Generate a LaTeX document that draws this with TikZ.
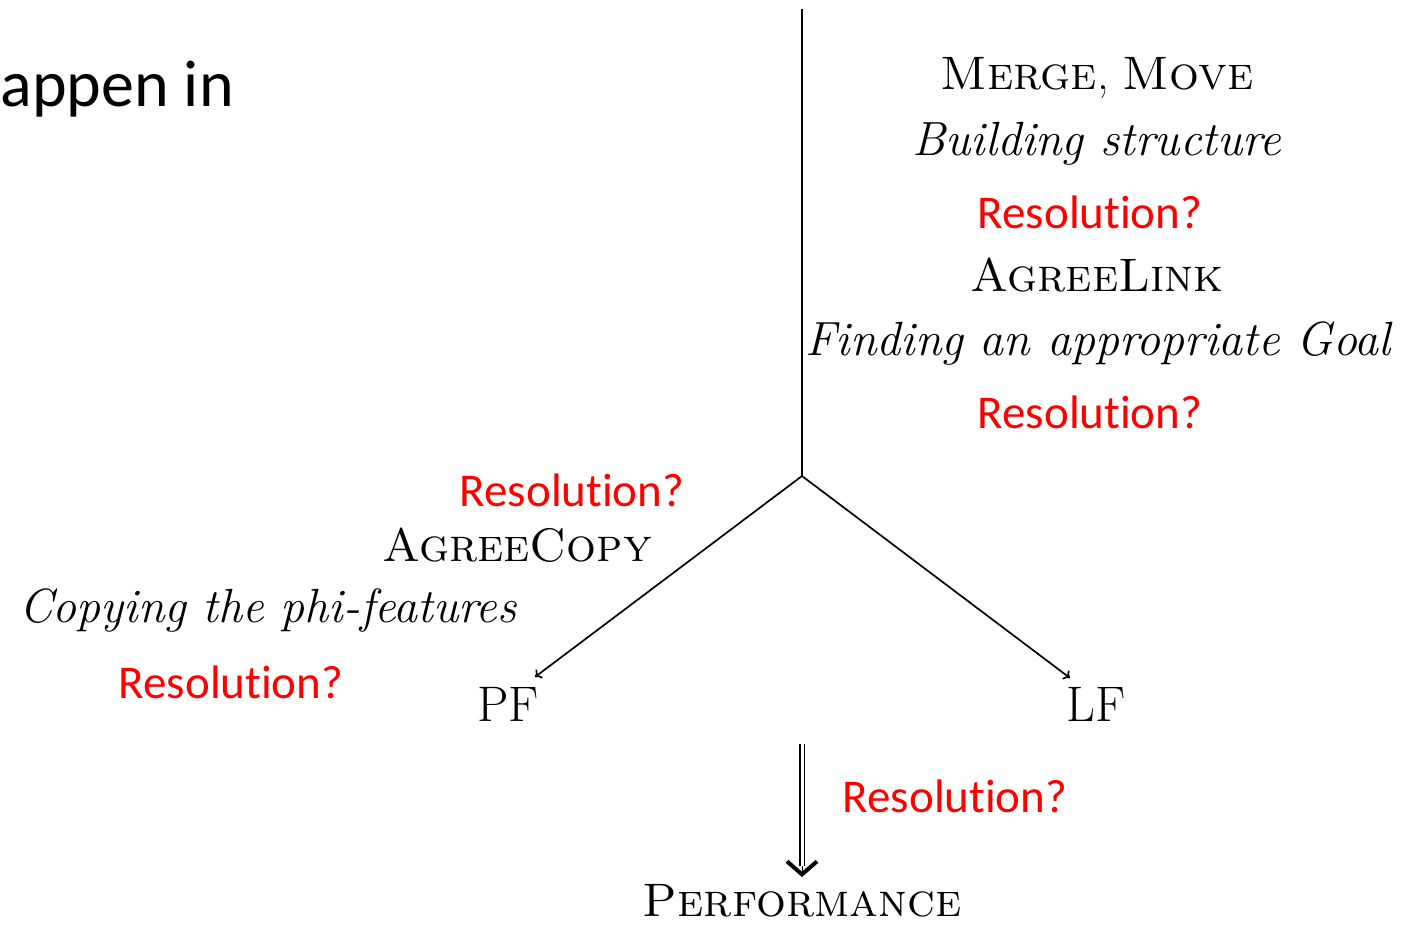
\documentclass[tikz,border=0pt]{standalone}
\usepackage{fontspec}
\newfontfamily\calibri[Ligatures={NoCommon},RawFeature={-liga;-dlig}]{Carlito}
\usetikzlibrary{arrows.meta}
% the red query, with the t-i pair kept apart
\newcommand\resquery{Resolut\kern0pt ion?}
\begin{document}
\begin{tikzpicture}[x=1pt,y=-1pt,
  lbl/.style={inner sep=0pt,anchor=base,font=\fontsize{47}{56}\selectfont},
  ilbl/.style={lbl,font=\fontsize{48}{57}\selectfont\itshape},
  res/.style={inner sep=0pt,anchor=base,text=red,font=\calibri\fontsize{47}{56}\selectfont},
  branch/.style={line width=1.7pt,-{To[length=6pt,width=11pt]}},
  trunk/.style={line width=1.7pt}]
\useasboundingbox (0,0) rectangle (1414,924);

% title fragment at the left edge
\node[inner sep=0pt,anchor=base east,font=\calibri\fontsize{66}{78}\selectfont] (title) at (234,106) {appen in};

% the derivation tree
\coordinate (top) at (802,9);
\coordinate (split) at (802,476);
\coordinate (pfend) at (535,677);
\coordinate (lfend) at (1070,678);
\coordinate (dtop) at (802,744);
\coordinate (dhead) at (802,866);
\coordinate (dbot) at (802,877);

\draw[trunk] (top) -- (split);
\draw[branch] (split) -- (pfend);
\draw[branch] (split) -- (lfend);
\draw[line width=1.5pt,double distance=3pt] (dtop) -- (dhead);
\draw[line width=1pt,-{Straight Barb[length=13pt,width=30pt,line width=4pt]}] (dhead) -- (dbot);

% narrow syntax
\node[lbl] (merge) at (1097,89) {\textsc{Merge}, \textsc{Move}};
\node[ilbl] (build) at (1097,155) {Building structure};
\node[res] (r1) at (1090,228) {\resquery};
\node[lbl] (link) at (1097,291) {\textsc{AgreeLink}};
\node[ilbl] (find) at (1098,355) {Finding an appropriate Goal};
\node[res] (r2) at (1090,428) {\resquery};

% PF branch
\node[res] (r3) at (572,506) {\resquery};
\node[lbl] (copy) at (517,561) {\textsc{AgreeCopy}};
\node[ilbl] (phi) at (268,622) {Copying the phi-features};
\node[res] (r4) at (231,698) {\resquery};
\node[lbl,font=\fontsize{50}{60}\selectfont] (pf) at (508,721) {PF};
\node[lbl,font=\fontsize{50}{60}\selectfont] (lf) at (1096,721) {LF};

% interfaces to performance
\node[res] (r5) at (955,812) {\resquery};
\node[lbl] (perf) at (802,916) {\textsc{Performance}};
\end{tikzpicture}
\end{document}
